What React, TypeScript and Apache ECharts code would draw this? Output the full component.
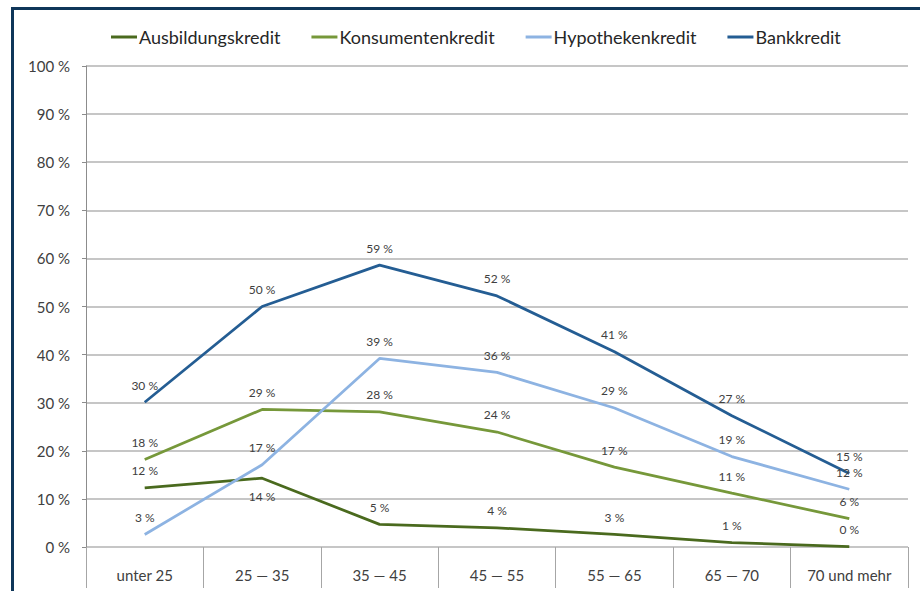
import React, { useEffect, useRef } from "react";
import * as echarts from "echarts";

const categories = ["unter 25", "25 — 35", "35 — 45", "45 — 55", "55 — 65", "65 — 70", "70 und mehr"];
const ausbildungskredit = [12.3, 14.3, 4.7, 4.0, 2.6, 0.9, 0.1];
const konsumentenkredit = [18.2, 28.6, 28.1, 23.9, 16.6, 11.2, 5.9];
const hypothekenkredit = [2.6, 17.1, 39.2, 36.3, 28.9, 18.8, 12.0];
const bankkredit = [30.1, 50.0, 58.6, 52.2, 40.6, 27.3, 15.3];
const yTicks = [0, 10, 20, 30, 40, 50, 60, 70, 80, 90, 100];

const seriesDefs = [
  { name: "Ausbildungskredit", data: ausbildungskredit, color: "#4A6A1E", below: [1] },
  { name: "Konsumentenkredit", data: konsumentenkredit, color: "#76983A", below: [] as number[] },
  { name: "Hypothekenkredit", data: hypothekenkredit, color: "#8DB3E2", below: [] as number[] },
  { name: "Bankkredit", data: bankkredit, color: "#245D93", below: [] as number[] },
];

const FONT = "Lato, 'Open Sans', sans-serif";

export default function App() {
  const ref = useRef<HTMLDivElement>(null);
  useEffect(() => {
    if (!ref.current) return;
    const chart = echarts.init(ref.current, undefined, { renderer: "svg" });
    chart.setOption({
      animation: false,
      backgroundColor: "#ffffff",
      textStyle: { fontFamily: FONT },
      graphic: [
        {
          type: "rect",
          shape: { x: 12.5, y: 8.5, width: 1200, height: 1200 },
          style: { fill: "none", stroke: "#0F3659", lineWidth: 3 },
          silent: true,
        },
      ],
      legend: {
        top: 23,
        left: 106,
        icon: "rect",
        itemWidth: 26,
        itemHeight: 3,
        itemGap: 31,
        textStyle: { fontFamily: FONT, fontSize: 18, color: "#262626", padding: [0, 0, 0, -3] },
        data: seriesDefs.map((s) => s.name),
      },
      grid: { left: 86, right: 12, top: 66, bottom: 44, containLabel: false },
      xAxis: {
        type: "category",
        data: categories,
        boundaryGap: true,
        axisLine: { show: false },
        axisTick: { show: true, length: 41, lineStyle: { color: "#A6A6A6", width: 1 } },
        axisLabel: { margin: 20, fontSize: 15, color: "#404040", fontFamily: FONT },
        splitLine: { show: false },
      },
      yAxis: {
        type: "value",
        min: 0,
        max: 100,
        interval: 10,
        axisLine: { show: true, lineStyle: { color: "#8C8C8C", width: 1 } },
        axisTick: { show: true, length: 4, lineStyle: { color: "#8C8C8C" } },
        axisLabel: {
          margin: 16,
          fontSize: 15,
          color: "#404040",
          fontFamily: FONT,
          formatter: (v: number) => (yTicks.includes(v) ? v + " %" : ""),
        },
        splitLine: { show: true, lineStyle: { color: "#B3B3B3", width: 1.5 } },
      },
      series: seriesDefs.map((s) => ({
        name: s.name,
        type: "line",
        color: s.color,
        symbol: "circle",
        symbolSize: 0.1,
        showSymbol: true,
        lineStyle: { color: s.color, width: 2.75 },
        itemStyle: { color: s.color },
        label: {
          show: true,
          position: "top",
          distance: 11,
          fontSize: 12,
          color: "#404040",
          fontFamily: FONT,
          formatter: (p: any) => Math.round(p.value) + " %",
        },
        data: s.data.map((v, i) =>
          s.below.includes(i) ? { value: v, label: { position: "bottom", distance: 12 } } : v
        ),
      })),
    });
    return () => chart.dispose();
  }, []);
  return (
    <div
      ref={ref}
      style={{ position: "fixed", left: 0, top: 0, width: 920, height: 591 }}
    />
  );
}
